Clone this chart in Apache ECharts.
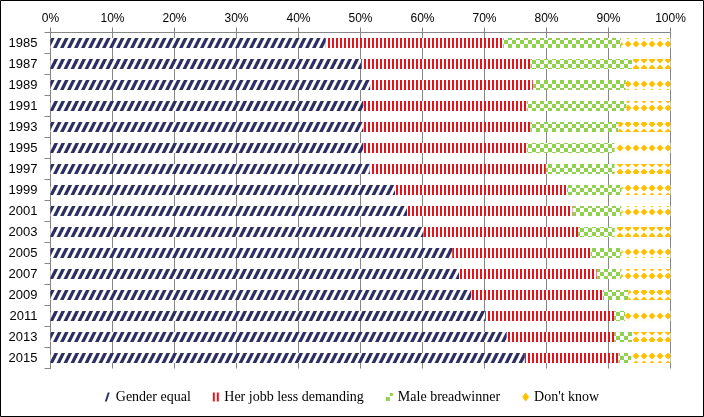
<!DOCTYPE html>
<html>
<head>
<meta charset="utf-8">
<script src="https://cdn.jsdelivr.net/npm/echarts@6/dist/echarts.min.js"></script>
<style>
html,body{margin:0;padding:0;background:#fff;}
#chart{width:704px;height:417px;}
</style>
</head>
<body>
<div id="chart"></div>
<script>
// ---- data ----
var years = ['1985','1987','1989','1991','1993','1995','1997','1999','2001','2003','2005','2007','2009','2011','2013','2015'];
var seriesNames = ['Gender equal','Her jobb less demanding','Male breadwinner',"Don't know"];
var genderEqual = [44.4, 50.1, 51.6, 50.5, 50.5, 50.5, 51.5, 55.6, 57.5, 60.2, 64.8, 65.9, 67.9, 70.1, 73.6, 76.5];
var herJobLess  = [28.6, 27.3, 26.2, 26.3, 26.9, 26.3, 28.4, 27.7, 26.7, 24.9, 22.3, 22.2, 21.2, 20.8, 17.3, 15.1];
var maleBread   = [19.0, 16.4, 15.0, 16.1, 14.2, 14.2, 11.1, 8.8, 7.9, 5.9, 5.0, 3.9, 4.1, 1.8, 2.9, 2.1];
var dontKnow    = [8.0, 6.2, 7.2, 7.1, 8.4, 9.0, 9.0, 7.9, 7.9, 9.0, 7.9, 8.0, 6.8, 7.3, 6.2, 6.3];
var xTickLabels = ['0%','10%','20%','30%','40%','50%','60%','70%','80%','90%','100%'];

// ---- pattern tiles ----
var NAVY = '#2D2F62', RED = '#E3141B', GREEN = '#92D050', YELLOW = '#FFC000';
function tile(w, h, draw) {
  var c = document.createElement('canvas');
  c.width = w; c.height = h;
  var g = c.getContext('2d');
  g.fillStyle = '#fff'; g.fillRect(0, 0, w, h);
  draw(g, w, h);
  return {image: c, repeat: 'repeat'};
}
var patDiag = tile(7, 14, function (g, w, h) {
  g.fillStyle = NAVY;
  for (var k = -1; k <= 1; k++) {
    var o = k * 7;
    g.beginPath();
    g.moveTo(o + 0, h); g.lineTo(o + 3.6, h); g.lineTo(o + 10.6, 0); g.lineTo(o + 7, 0);
    g.closePath(); g.fill();
  }
});
var patVert = tile(4, 4, function (g) { g.fillStyle = RED; g.fillRect(0, 0, 2, 4); });
var patCheck = tile(8, 8, function (g) { g.fillStyle = GREEN; g.fillRect(0, 0, 4, 4); g.fillRect(4, 4, 4, 4); });
var patDiamond = tile(8, 8, function (g) {
  g.fillStyle = YELLOW;
  g.beginPath(); g.moveTo(4, 0.5); g.lineTo(7.5, 4); g.lineTo(4, 7.5); g.lineTo(0.5, 4); g.closePath(); g.fill();
});

var patterns = [patDiag, patVert, patCheck, patDiamond];
var values = [genderEqual, herJobLess, maleBread, dontKnow];
var legendIcons = [
  {icon: 'path://M3,0 L5,0 L2,9 L0,9 Z', color: NAVY},
  {icon: 'path://M0,0 L2,0 L2,9 L0,9 Z M4,0 L6,0 L6,9 L4,9 Z', color: RED},
  {icon: 'path://M4,0 L7,0 L7,3 L4,3 Z M0,4 L4,4 L4,8 L0,8 Z', color: GREEN},
  {icon: 'path://M3.5,0 L7,4.5 L3.5,9 L0,4.5 Z', color: YELLOW}
];

var series = seriesNames.map(function (n, i) {
  return {
    name: n, type: 'bar', stack: 'total', barWidth: 10,
    itemStyle: {color: patterns[i]},
    emphasis: {disabled: true},
    data: values[i]
  };
});

var chart = echarts.init(document.getElementById('chart'), null, {renderer: 'canvas'});
chart.setOption({
  animation: false,
  backgroundColor: '#fff',
  grid: {left: 50.5, right: 33.5, top: 32.5, bottom: 48.5, containLabel: false},
  xAxis: {
    type: 'value', position: 'top', min: 0, max: 100, interval: 10,
    axisLine: {show: true, lineStyle: {color: '#868686', width: 1}},
    axisTick: {show: true, length: 5, lineStyle: {color: '#868686'}},
    splitLine: {show: true, lineStyle: {color: '#868686', width: 1}},
    axisLabel: {
      margin: 8, color: '#000', fontFamily: 'Liberation Sans', fontSize: 12,
      formatter: function (v) { return xTickLabels[Math.round(v / 10)]; }
    }
  },
  yAxis: {
    type: 'category', inverse: true, data: years,
    axisLine: {show: true, lineStyle: {color: '#868686', width: 1}},
    axisTick: {show: true, length: 6, lineStyle: {color: '#868686'}},
    axisLabel: {margin: 13, color: '#000', fontFamily: 'Liberation Sans', fontSize: 13}
  },
  legend: {
    bottom: 8, left: 'center', itemGap: 22, itemWidth: 7, itemHeight: 9,
    textStyle: {fontFamily: 'Liberation Serif', fontSize: 14, color: '#000'},
    data: seriesNames.map(function (n, i) {
      return {name: n, icon: legendIcons[i].icon, itemStyle: {color: legendIcons[i].color}};
    })
  },
  graphic: [{
    type: 'rect', silent: true, z: 100,
    shape: {x: 0.5, y: 0.5, width: 703, height: 416},
    style: {fill: null, stroke: '#000', lineWidth: 1}
  }],
  series: series
});
</script>
</body>
</html>
